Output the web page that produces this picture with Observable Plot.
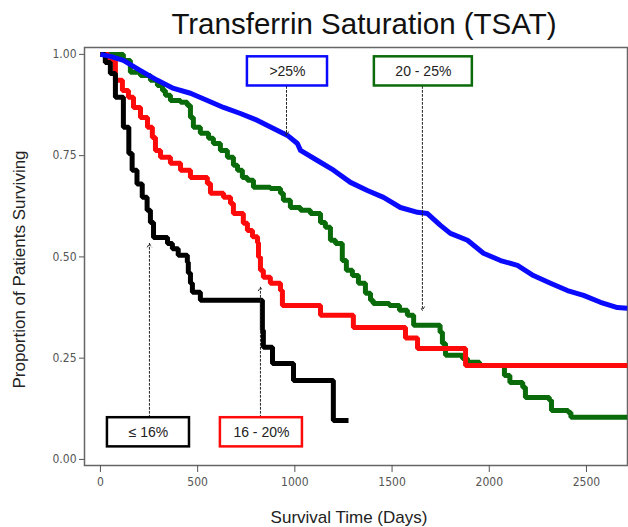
<!DOCTYPE html>
<html>
<head>
<meta charset="utf-8">
<script src="https://cdn.jsdelivr.net/npm/d3@7"></script>
<script src="https://cdn.jsdelivr.net/npm/@observablehq/plot@0.6"></script>
<style>
  html, body { margin: 0; padding: 0; background: #fff; }
  #chart svg { display: block; }
</style>
</head>
<body>
<div id="chart"></div>
<script>
// ---- Data ----
const groups = [">25%", "20 - 25%", "16 - 20%", "≤ 16%"];
const groupColors = ["#0a0aff", "#0a6b0a", "#ff0a0a", "#000000"];

// Kaplan–Meier points: time (days) and survival after that time
const blueTime = [0, 51, 118, 206, 293, 376, 463, 550, 633, 720, 808, 890, 962, 1013, 1029, 1116, 1199, 1286, 1373, 1456, 1543, 1631, 1682, 1749, 1800, 1888, 1970, 2058, 2145, 2227, 2315, 2402, 2485, 2572, 2659, 2710];
const blueSurv = [1.0, 0.995, 0.985, 0.96, 0.936, 0.916, 0.904, 0.886, 0.869, 0.854, 0.837, 0.817, 0.80, 0.78, 0.763, 0.738, 0.714, 0.684, 0.664, 0.647, 0.622, 0.61, 0.607, 0.578, 0.558, 0.541, 0.509, 0.491, 0.479, 0.454, 0.435, 0.417, 0.405, 0.388, 0.375, 0.373];

const greenTime = [0, 118, 154, 206, 257, 293, 319, 334, 360, 412, 447, 463, 478, 514, 556, 581, 617, 653, 684, 705, 730, 756, 787, 874, 926, 941, 977, 1029, 1080, 1132, 1157, 1183, 1209, 1244, 1265, 1296, 1327, 1363, 1389, 1403, 1486, 1538, 1579, 1611, 1747, 1759, 1775, 1862, 1888, 1950, 2078, 2106, 2172, 2186, 2309, 2320, 2406, 2420, 2710];
const greenSurv = [1.0, 0.985, 0.956, 0.948, 0.936, 0.923, 0.911, 0.899, 0.886, 0.882, 0.874, 0.844, 0.82, 0.805, 0.793, 0.78, 0.763, 0.746, 0.726, 0.714, 0.696, 0.689, 0.672, 0.669, 0.657, 0.64, 0.622, 0.615, 0.607, 0.585, 0.573, 0.541, 0.533, 0.491, 0.467, 0.454, 0.435, 0.41, 0.393, 0.385, 0.38, 0.368, 0.356, 0.331, 0.314, 0.286, 0.257, 0.249, 0.24, 0.232, 0.207, 0.19, 0.178, 0.153, 0.146, 0.121, 0.116, 0.104, 0.104];

const redTime = [0, 41, 77, 113, 144, 170, 206, 242, 267, 283, 309, 360, 412, 463, 550, 566, 633, 669, 684, 735, 756, 782, 808, 813, 823, 838, 874, 926, 936, 1132, 1301, 1569, 1631, 1878, 2710];
const redSurv = [1.0, 0.985, 0.936, 0.911, 0.894, 0.869, 0.844, 0.82, 0.795, 0.763, 0.746, 0.731, 0.714, 0.696, 0.681, 0.657, 0.647, 0.632, 0.607, 0.583, 0.565, 0.55, 0.535, 0.50, 0.467, 0.45, 0.435, 0.417, 0.38, 0.356, 0.326, 0.30, 0.274, 0.232, 0.232];

const blackTime = [0, 25, 51, 77, 118, 146, 163, 188, 215, 240, 257, 273, 345, 370, 400, 447, 452, 463, 473, 514, 833, 838, 885, 993, 1198, 1276];
const blackSurv = [1.0, 0.98, 0.953, 0.894, 0.82, 0.755, 0.714, 0.68, 0.647, 0.615, 0.585, 0.548, 0.533, 0.52, 0.504, 0.487, 0.46, 0.435, 0.413, 0.393, 0.319, 0.277, 0.237, 0.195, 0.096, 0.096];

const xTicks = [0, 500, 1000, 1500, 2000, 2500];
const yTicks = [0, 0.25, 0.5, 0.75, 1.0];

// Annotation callouts: label, box centre (days, proportion), arrow tip (days, proportion)
const calloutLabels = [">25%", "20 - 25%", "≤ 16%", "16 - 20%"];
const calloutX = [962, 1661, 247, 828];
const calloutY = [0.958, 0.958, 0.067, 0.067];
const calloutHalfW = [206, 252, 211, 211];
const arrowStartY = [0.921, 0.921, 0.104, 0.104];
const arrowEndX = [957, 1656, 252, 823];
const arrowEndY = [0.80, 0.368, 0.533, 0.425];

// ---- Build tables ----
const series = [
  [groups[0], blueTime, blueSurv],
  [groups[1], greenTime, greenSurv],
  [groups[2], redTime, redSurv],
  [groups[3], blackTime, blackSurv]
];
const rows = series.flatMap(([g, ts, ss]) => ts.map((t, i) => ({group: g, t, s: ss[i]})));
const blueRows = rows.filter(d => d.group === groups[0]);
const stepRows = rows.filter(d => d.group !== groups[0]);

const callouts = calloutLabels.map((label, i) => ({
  label,
  color: groupColors[groups.indexOf(label)],
  x1: calloutX[i] - calloutHalfW[i],
  x2: calloutX[i] + calloutHalfW[i],
  y1: calloutY[i] - 0.036,
  y2: calloutY[i] + 0.036,
  cx: calloutX[i],
  cy: calloutY[i],
  ax: arrowEndX[i],
  ay1: arrowStartY[i],
  ay2: arrowEndY[i]
}));

const tickFont = "'Liberation Sans Narrow', 'DejaVu Sans Condensed', 'DejaVu Sans Mono', sans-serif";
const textFont = "'Liberation Sans', Arial, sans-serif";

const chart = Plot.plot({
  width: 628,
  height: 527,
  marginTop: 47,
  marginBottom: 62,
  marginLeft: 84,
  marginRight: 1,
  style: {background: "#fff", fontFamily: textFont},
  x: {domain: [-82, 2711]},
  y: {domain: [-0.015, 1.017]},
  color: {domain: groups, range: groupColors},
  marks: [
    Plot.frame({stroke: "#666", strokeWidth: 1.5}),
    Plot.axisX({ticks: xTicks, tickSize: 7, tickPadding: 5, label: null, color: "#555",
      tickFormat: d => String(d), fontFamily: tickFont, fontSize: 12,
      style: "letter-spacing:1.5px"}),
    Plot.axisY({ticks: yTicks, tickSize: 5, tickPadding: 3, label: null, color: "#555",
      tickFormat: d3.format(".2f"), fontFamily: tickFont, fontSize: 12,
      style: "letter-spacing:1.5px"}),
    Plot.line(stepRows, {x: "t", y: "s", z: "group", stroke: "group", curve: "step-after",
      strokeWidth: 5, strokeLinejoin: "miter", strokeLinecap: "butt"}),
    Plot.line(blueRows, {x: "t", y: "s", z: "group", stroke: "group", curve: "linear",
      strokeWidth: 5, strokeLinejoin: "round", strokeLinecap: "butt"}),
    Plot.arrow(callouts, {x1: "ax", y1: "ay1", x2: "ax", y2: "ay2", stroke: "#222",
      strokeWidth: 1, strokeDasharray: "2,2", headLength: 6, bend: 0}),
    Plot.rect(callouts, {x1: "x1", x2: "x2", y1: "y1", y2: "y2", fill: "#fff",
      stroke: "color", strokeWidth: 2.5}),
    Plot.text(callouts, {x: "cx", y: "cy", text: "label", fill: "#222", fontSize: 14,
      fontFamily: textFont}),
    Plot.text(["Transferrin Saturation (TSAT)"], {frameAnchor: "top", lineAnchor: "middle",
      dx: 8, dy: -23, fontSize: 29.5, fill: "#111", fontFamily: textFont}),
    Plot.text(["Survival Time (Days)"], {frameAnchor: "bottom", lineAnchor: "middle",
      dx: -7, dy: 52, fontSize: 17, fill: "#222", fontFamily: textFont}),
    Plot.text(["Proportion of Patients Surviving"], {frameAnchor: "left", textAnchor: "middle",
      lineAnchor: "middle", dx: -65, dy: 13, rotate: -90,
      fontSize: 17, fill: "#222", fontFamily: textFont})
  ]
});
document.getElementById("chart").appendChild(chart);
</script>
</body>
</html>
